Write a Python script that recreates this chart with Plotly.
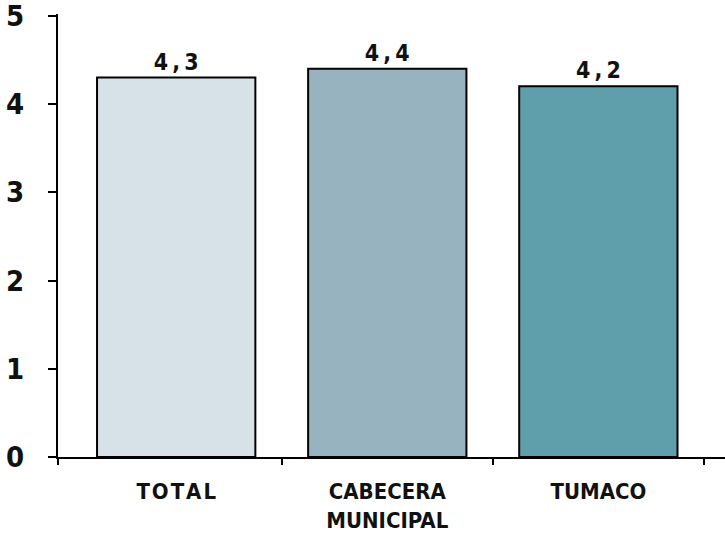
import plotly.graph_objects as go

# Promedio por zona
categories = ["TOTAL", "CABECERA<br>MUNICIPAL", "TUMACO"]
values = [4.3, 4.4, 4.2]
bar_colors = ["#d6e1e8", "#98b3c0", "#5f9fab"]
y_ticks = [0, 1, 2, 3, 4, 5]

FONT = "DejaVu Sans Condensed, Liberation Sans Narrow, Arial Narrow, sans-serif"

x_pos = list(range(len(categories)))

def fmt(v):
    # decimal comma, with a little tracking between characters
    return "<b>" + "\u2009".join(f"{v:.1f}".replace(".", ",")) + "</b>"

def spaced(label):
    # light tracking for the short label
    if label == "TOTAL":
        return "\u200a".join(label)
    return label

fig = go.Figure(
    go.Bar(
        x=x_pos,
        y=values,
        width=0.75,
        marker=dict(color=bar_colors, line=dict(color="black", width=2)),
        text=[fmt(v) for v in values],
        textposition="outside",
        cliponaxis=False,
        textfont=dict(family=FONT, size=23, color="#111111"),
    )
)

fig.update_layout(
    width=725,
    height=539,
    margin=dict(l=58, r=0, t=14, b=82),
    paper_bgcolor="white",
    plot_bgcolor="white",
    showlegend=False,
    bargap=0.25,
    font=dict(family=FONT, color="#111111"),
)

fig.update_xaxes(
    range=[-0.56, 2.60],
    tickmode="array",
    tickvals=x_pos,
    ticktext=[f"<b>{spaced(c)}</b>" for c in categories],
    ticks="",
    ticklabelstandoff=14,
    tickfont=dict(family=FONT, size=22, color="#111111"),
    showline=True,
    linecolor="black",
    linewidth=2,
    showgrid=False,
    zeroline=False,
    minor=dict(
        tickmode="array",
        tickvals=[-0.56] + [i + 0.5 for i in x_pos],
        ticks="outside",
        ticklen=6,
        tickwidth=2,
        tickcolor="black",
    ),
)

fig.update_yaxes(
    range=[0, 5.02],
    tickmode="array",
    tickvals=y_ticks,
    ticktext=[f"<b>{t}</b>" for t in y_ticks],
    ticks="outside",
    ticklen=8,
    tickwidth=2,
    tickcolor="black",
    ticklabelstandoff=18,
    ticklabeloverflow="allow",
    tickfont=dict(family=FONT, size=29, color="#111111"),
    showline=True,
    linecolor="black",
    linewidth=2,
    showgrid=False,
    zeroline=False,
)

fig.write_html("out.html")
